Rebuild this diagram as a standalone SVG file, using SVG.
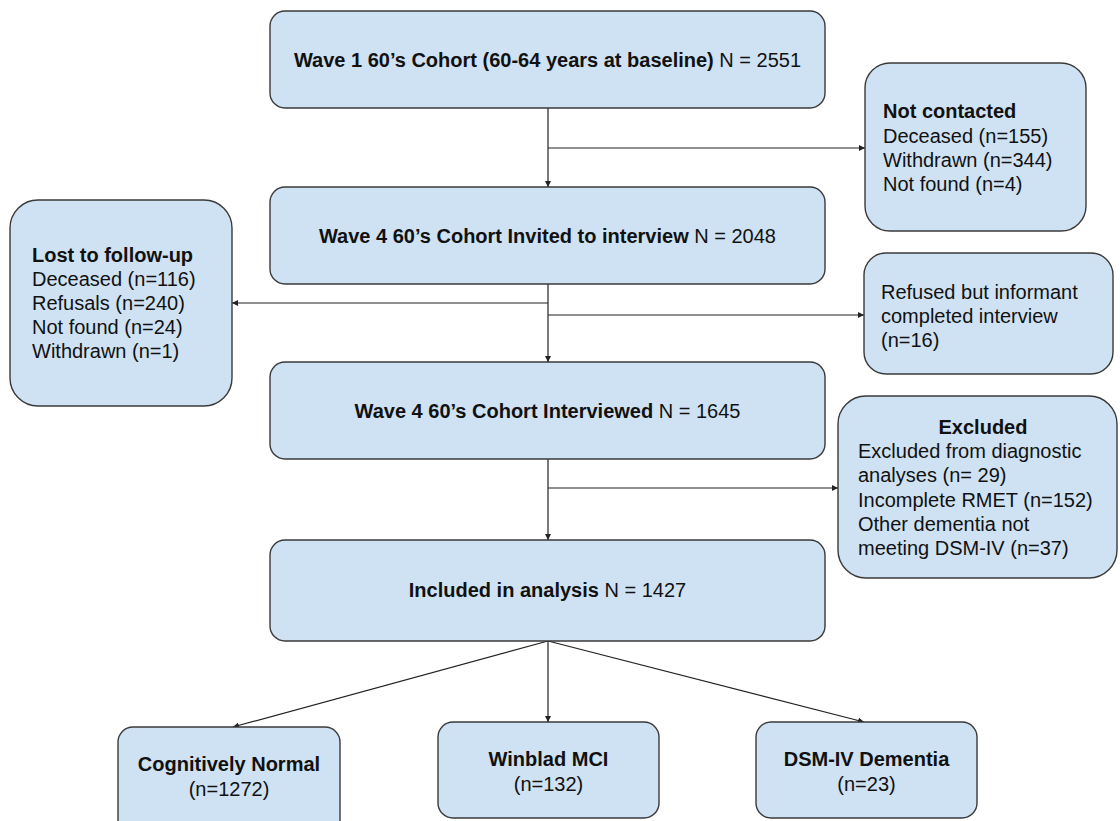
<svg xmlns="http://www.w3.org/2000/svg" width="1120" height="821" viewBox="0 0 1120 821">
<style>
.box{fill:#cfe2f3;stroke:#3a3a3a;stroke-width:1.4}
text{font-family:"Liberation Sans",Arial,sans-serif;font-size:20px;fill:#111}
.b{font-weight:bold}
.c{text-anchor:middle}
.ln{stroke:#222;stroke-width:1.2;fill:none;marker-end:url(#ah)}
</style>
<defs>
<marker id="ah" viewBox="0 0 10 10" refX="10" refY="5" markerWidth="6" markerHeight="6" markerUnits="userSpaceOnUse" orient="auto">
<path d="M0,0 L10,5 L0,10 z" fill="#222"/>
</marker>
</defs>
<rect width="1120" height="821" fill="#fff"/>
<g id="connectors">
<line class="ln" x1="548" y1="108" x2="548" y2="187"/>
<line class="ln" x1="548" y1="148" x2="865" y2="148"/>
<line class="ln" x1="548" y1="284" x2="548" y2="362"/>
<line class="ln" x1="548" y1="303" x2="232" y2="303"/>
<line class="ln" x1="548" y1="315" x2="864" y2="315"/>
<line class="ln" x1="548" y1="459" x2="548" y2="540"/>
<line class="ln" x1="548" y1="488" x2="838" y2="488"/>
<line class="ln" x1="548" y1="641" x2="233" y2="727"/>
<line class="ln" x1="548" y1="641" x2="548" y2="722"/>
<line class="ln" x1="548" y1="641" x2="864" y2="722"/>
</g>
<g id="wave1">
<rect class="box" x="270" y="11" width="555" height="97" rx="15"/>
<text class="c" x="547.5" y="67"><tspan class="b">Wave 1 60’s Cohort (60-64 years at baseline)</tspan> N = 2551</text>
</g>
<g id="not-contacted">
<rect class="box" x="865" y="63" width="221" height="168" rx="25"/>
<text x="883" y="118" class="b">Not contacted</text>
<text x="883" y="143">Deceased (n=155)</text>
<text x="883" y="167">Withdrawn (n=344)</text>
<text x="883" y="191">Not found (n=4)</text>
</g>
<g id="wave4-invited">
<rect class="box" x="270" y="187" width="555" height="97" rx="15"/>
<text class="c" x="547.5" y="243"><tspan class="b">Wave 4 60’s Cohort Invited to interview</tspan> N = 2048</text>
</g>
<g id="lost">
<rect class="box" x="10" y="200" width="222" height="206" rx="28"/>
<text x="32" y="262" class="b">Lost to follow-up</text>
<text x="32" y="286">Deceased (n=116)</text>
<text x="32" y="310">Refusals (n=240)</text>
<text x="32" y="334">Not found (n=24)</text>
<text x="32" y="358">Withdrawn (n=1)</text>
</g>
<g id="refused">
<rect class="box" x="864" y="253" width="249" height="121" rx="22"/>
<text x="881" y="299">Refused but informant</text>
<text x="881" y="323">completed interview</text>
<text x="881" y="347">(n=16)</text>
</g>
<g id="wave4-interviewed">
<rect class="box" x="270" y="362" width="555" height="97" rx="15"/>
<text class="c" x="547.5" y="418"><tspan class="b">Wave 4 60’s Cohort Interviewed</tspan> N = 1645</text>
</g>
<g id="excluded">
<rect class="box" x="838" y="396" width="279" height="182" rx="28"/>
<text x="983" y="434" class="b c">Excluded</text>
<text x="858" y="458">Excluded from diagnostic</text>
<text x="858" y="482">analyses (n= 29)</text>
<text x="858" y="507">Incomplete RMET (n=152)</text>
<text x="858" y="531">Other dementia not</text>
<text x="858" y="555">meeting DSM-IV (n=37)</text>
</g>
<g id="included">
<rect class="box" x="270" y="540" width="555" height="101" rx="15"/>
<text class="c" x="547.5" y="597"><tspan class="b">Included in analysis</tspan> N = 1427</text>
</g>
<g id="normal">
<rect class="box" x="118" y="727" width="222" height="110" rx="15"/>
<text class="c b" x="229" y="771">Cognitively Normal</text>
<text class="c" x="229" y="796">(n=1272)</text>
</g>
<g id="mci">
<rect class="box" x="438" y="722" width="221" height="96" rx="15"/>
<text class="c b" x="548.5" y="766">Winblad MCI</text>
<text class="c" x="548.5" y="791">(n=132)</text>
</g>
<g id="dementia">
<rect class="box" x="756" y="722" width="221" height="96" rx="15"/>
<text class="c b" x="866.5" y="766">DSM-IV Dementia</text>
<text class="c" x="866.5" y="791">(n=23)</text>
</g>
</svg>
